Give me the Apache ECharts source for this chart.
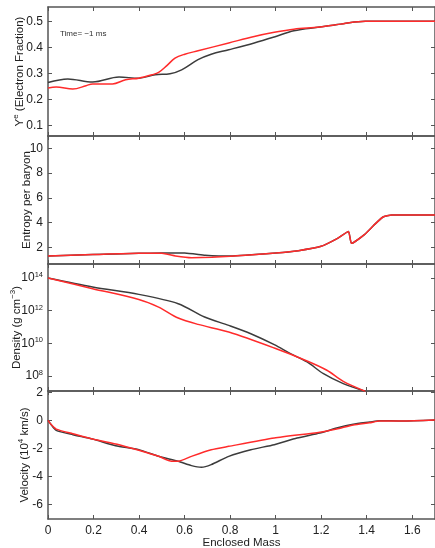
<!DOCTYPE html>
<html><head><meta charset="utf-8">
<script src="https://cdn.jsdelivr.net/npm/echarts@6/dist/echarts.min.js"></script>
<style>html,body{margin:0;padding:0;background:#fff}#c{width:435px;height:548px}</style>
</head><body><div id="c"></div>
<script>
// ---- tick values ----
const massTicks = [0, 0.2, 0.4, 0.6, 0.8, 1, 1.2, 1.4, 1.6];
const yeTicks = [0.1, 0.2, 0.3, 0.4, 0.5];
const entropyTicks = [2, 4, 6, 8, 10];
const densityExpTicks = [8, 10, 12, 14];
const velocityTicks = [-6, -4, -2, 0, 2];

// ---- Electron fraction ----
const yeBlackMass = [0, 0.087, 0.196, 0.312, 0.399, 0.471, 0.536, 0.587, 0.659, 0.717, 0.794, 0.906, 0.994, 1.08, 1.194, 1.297, 1.394, 1.5, 1.7];
const yeBlack     = [0.265, 0.279, 0.267, 0.286, 0.282, 0.295, 0.299, 0.314, 0.353, 0.374, 0.391, 0.417, 0.440, 0.464, 0.478, 0.491, 0.500, 0.500, 0.500];
const yeRedMass = [0, 0.036, 0.109, 0.167, 0.196, 0.283, 0.341, 0.399, 0.457, 0.486, 0.522, 0.558, 0.601, 0.659, 0.794, 0.906, 0.994, 1.08, 1.194, 1.297, 1.394, 1.5, 1.7];
const yeRed     = [0.244, 0.248, 0.240, 0.253, 0.260, 0.260, 0.276, 0.282, 0.295, 0.304, 0.330, 0.359, 0.374, 0.387, 0.417, 0.442, 0.458, 0.470, 0.478, 0.491, 0.500, 0.500, 0.500];

// ---- Entropy ----
const entBlackMass = [0, 0.196, 0.399, 0.5, 0.6, 0.69, 0.75, 0.8, 1.0, 1.1, 1.2, 1.27, 1.32, 1.333, 1.39, 1.43, 1.47, 1.51, 1.7];
const entBlack     = [1.30, 1.41, 1.51, 1.54, 1.54, 1.35, 1.30, 1.30, 1.54, 1.73, 2.08, 2.70, 3.27, 2.32, 3.03, 3.76, 4.43, 4.62, 4.62];
const entRedMass = [0, 0.196, 0.399, 0.5, 0.56, 0.63, 0.72, 0.8, 1.0, 1.1, 1.2, 1.27, 1.32, 1.333, 1.39, 1.43, 1.47, 1.51, 1.7];
const entRed     = [1.30, 1.41, 1.51, 1.51, 1.30, 1.16, 1.19, 1.27, 1.54, 1.73, 2.08, 2.70, 3.27, 2.32, 3.03, 3.76, 4.43, 4.62, 4.62];

// ---- Density (log10 of g cm^-3) ----
const denBlackMass = [0, 0.196, 0.399, 0.572, 0.688, 0.794, 0.891, 0.994, 1.065, 1.138, 1.210, 1.297, 1.394];
const denBlackExp  = [14.0, 13.45, 13.0, 12.43, 11.61, 11.10, 10.59, 9.92, 9.37, 8.86, 8.14, 7.53, 7.06];
const denRedMass = [0, 0.196, 0.399, 0.486, 0.572, 0.659, 0.794, 0.994, 1.138, 1.225, 1.297, 1.394];
const denRedExp  = [14.0, 13.35, 12.69, 12.22, 11.55, 11.16, 10.69, 9.71, 8.92, 8.35, 7.67, 7.06];

// ---- Velocity (10^4 km/s) ----
const velBlackMass = [0, 0.014, 0.036, 0.109, 0.196, 0.297, 0.399, 0.486, 0.572, 0.630, 0.674, 0.717, 0.794, 0.891, 0.994, 1.094, 1.194, 1.268, 1.341, 1.413, 1.457, 1.557, 1.7];
const velBlack     = [0, -0.31, -0.71, -1.02, -1.33, -1.80, -2.09, -2.56, -2.91, -3.22, -3.34, -3.15, -2.56, -2.09, -1.73, -1.26, -0.90, -0.55, -0.28, -0.12, -0.02, -0.05, 0.02];
const velRedMass = [0, 0.014, 0.036, 0.109, 0.196, 0.312, 0.399, 0.486, 0.543, 0.572, 0.630, 0.717, 0.794, 0.994, 1.194, 1.268, 1.341, 1.413, 1.457, 1.557, 1.7];
const velRed     = [0, -0.30, -0.62, -0.95, -1.33, -1.73, -2.13, -2.56, -2.91, -2.91, -2.56, -2.09, -1.85, -1.26, -0.85, -0.62, -0.33, -0.17, -0.05, -0.05, 0.02];

function pairs(xs, ys) { return xs.map((x, i) => [x, ys[i]]); }

const FONT = 'Liberation Sans, Arial, sans-serif';
const AXC = '#555';
const TXT = '#222';
const BLACK = '#3c3c3c';
const RED = '#ff2b2b';

const gridBase = { left: 48, width: 387, containLabel: false, outerBoundsMode: 'none' };
const grids = [
  Object.assign({ top: 7, height: 129 }, gridBase),
  Object.assign({ top: 136, height: 128 }, gridBase),
  Object.assign({ top: 264, height: 127 }, gridBase),
  Object.assign({ top: 391, height: 128 }, gridBase)
];

const xAxes = [];
const yAxes = [];
const lineCommon = { show: true, onZero: false, lineStyle: { color: AXC, width: 1.5 } };

for (let i = 0; i < 4; i++) {
  const isBottom = i === 3;
  xAxes.push({
    gridIndex: i, type: 'value', position: 'bottom', min: 0, max: 1.7,
    axisLine: lineCommon, splitLine: { show: false },
    axisTick: { show: true, inside: true, length: 4, customValues: massTicks, lineStyle: { color: AXC } },
    axisLabel: { show: isBottom, customValues: massTicks, color: TXT, fontSize: 12, fontFamily: FONT, margin: 6 },
    name: isBottom ? 'Enclosed Mass' : '', nameLocation: 'middle', nameGap: 18, nameMoveOverlap: false,
    nameTextStyle: { color: TXT, fontSize: 11.5, fontFamily: FONT }
  });
  xAxes.push({
    gridIndex: i, type: 'value', position: 'top', min: 0, max: 1.7,
    axisLine: lineCommon, splitLine: { show: false },
    axisTick: { show: true, inside: true, length: 4, customValues: massTicks, lineStyle: { color: AXC } },
    axisLabel: { show: false }
  });
}

const yDefs = [
  { min: 0.06, max: 0.555, ticks: yeTicks, name: '{n|Y}{s|e}{n| (Electron Fraction)}', gap: 21, fmt: v => v.toFixed(1) },
  { min: 0.65, max: 11, ticks: entropyTicks, name: '{n|Entropy per baryon}', gap: 14, fmt: v => String(v) },
  { min: 7.08, max: 14.86, ticks: densityExpTicks, name: '{n|Density (g cm}{s|−3}{n|)}', gap: 24, fmt: v => '{b|10}{e|' + v + '}' },
  { min: -7.02, max: 2.09, ticks: velocityTicks, name: '{n|Velocity (10}{s|4}{n| km/s)}', gap: 16, fmt: v => String(v) }
];

yDefs.forEach((d, i) => {
  yAxes.push({
    gridIndex: i, type: 'value', position: 'left', min: d.min, max: d.max,
    axisLine: lineCommon, splitLine: { show: false },
    axisTick: { show: true, inside: true, length: 4, customValues: d.ticks, lineStyle: { color: AXC } },
    axisLabel: {
      show: true, customValues: d.ticks, color: TXT, fontSize: 12, fontFamily: FONT, margin: 5,
      formatter: d.fmt,
      rich: {
        b: { fontSize: 12, fontFamily: FONT, color: TXT, lineHeight: 14 },
        e: { fontSize: 7.5, fontFamily: FONT, color: TXT, verticalAlign: 'top', lineHeight: 9 }
      }
    },
    name: d.name, nameLocation: 'middle', nameGap: d.gap, nameRotate: 90, nameMoveOverlap: false,
    nameTextStyle: {
      color: TXT, fontFamily: FONT,
      rich: {
        n: { fontSize: 11.5, fontFamily: FONT, color: TXT, lineHeight: 15 },
        s: { fontSize: 8, fontFamily: FONT, color: TXT, verticalAlign: 'top', lineHeight: 9 }
      }
    }
  });
  yAxes.push({
    gridIndex: i, type: 'value', position: 'right', min: d.min, max: d.max,
    axisLine: lineCommon, splitLine: { show: false },
    axisTick: { show: true, inside: true, length: 4, customValues: d.ticks, lineStyle: { color: AXC } },
    axisLabel: { show: false }
  });
});

function line(data, idx, color, smooth) {
  return {
    type: 'line', data: data, xAxisIndex: idx * 2, yAxisIndex: idx * 2,
    showSymbol: false, smooth: smooth, clip: true, animation: false,
    lineStyle: { color: color, width: 1.5 }, z: color === RED ? 3 : 2
  };
}

const series = [
  line(pairs(yeBlackMass, yeBlack), 0, BLACK, 0.35),
  line(pairs(yeRedMass, yeRed), 0, RED, 0.35),
  line(pairs(entBlackMass, entBlack), 1, BLACK, 0.15),
  line(pairs(entRedMass, entRed), 1, RED, 0.15),
  line(pairs(denBlackMass, denBlackExp), 2, BLACK, 0.3),
  line(pairs(denRedMass, denRedExp), 2, RED, 0.3),
  line(pairs(velBlackMass, velBlack), 3, BLACK, 0.2),
  line(pairs(velRedMass, velRed), 3, RED, 0.2)
];

const chart = echarts.init(document.getElementById('c'), null, { renderer: 'canvas' });
chart.setOption({
  backgroundColor: '#fff',
  animation: false,
  grid: grids,
  xAxis: xAxes,
  yAxis: yAxes,
  series: series,
  graphic: [{
    type: 'text', left: 60, top: 30,
    style: { text: 'Time= −1 ms', fontSize: 8, fontFamily: FONT, fill: '#333' }
  }]
});
</script>
</body></html>
